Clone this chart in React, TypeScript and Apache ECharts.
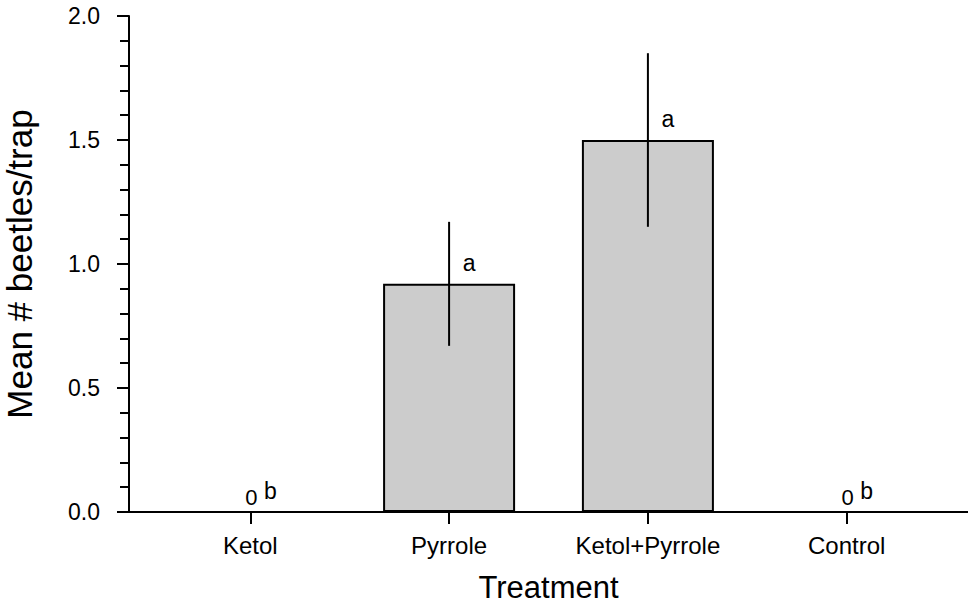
import React, { useEffect, useRef } from "react";
import * as echarts from "echarts";

const categories = ["Ketol", "Pyrrole", "Ketol+Pyrrole", "Control"];
const positions = [1, 2, 3, 4];
const means = [0, 0.92, 1.5, 0];
const errors = [0, 0.25, 0.35, 0];
const letters = ["b", "a", "a", "b"];
const yTicks = [0, 0.5, 1.0, 1.5, 2.0];

const FONT = "'Liberation Sans', Arial, Helvetica, sans-serif";

export default function App() {
  const ref = useRef<HTMLDivElement>(null);
  useEffect(() => {
    document.body.style.margin = "0";
    if (!ref.current) return;
    const chart = echarts.init(ref.current, undefined, { renderer: "svg" });
    const barData = positions.map((p, i) => [p, means[i]]);
    const errData = positions.map((p, i) => [p, means[i], errors[i]]);
    chart.setOption({
      animation: false,
      backgroundColor: "#ffffff",
      grid: {
        left: 129,
        right: 0,
        top: 16,
        bottom: 94,
        containLabel: false,
        outerBoundsMode: "none",
      },
      xAxis: {
        type: "value",
        min: 0.39,
        max: 4.61,
        name: "Treatment",
        nameLocation: "middle",
        nameGap: 60,
        nameTextStyle: { fontSize: 31, color: "#000", fontFamily: FONT },
        axisLine: { show: true, lineStyle: { color: "#000", width: 2 } },
        axisTick: {
          show: true,
          customValues: positions,
          length: 12,
          lineStyle: { color: "#000", width: 2 },
        },
        axisLabel: {
          customValues: positions,
          formatter: (v: number) => categories[Math.round(v) - 1] ?? "",
          fontSize: 24,
          color: "#000",
          fontFamily: FONT,
          margin: 21,
        },
        splitLine: { show: false },
      },
      yAxis: {
        type: "value",
        min: yTicks[0],
        max: yTicks[yTicks.length - 1],
        interval: 0.5,
        name: "Mean # beetles/trap",
        nameLocation: "middle",
        nameGap: 92,
        nameTextStyle: { fontSize: 35, color: "#000", fontFamily: FONT },
        axisLine: { show: true, lineStyle: { color: "#000", width: 2 } },
        axisTick: { show: true, length: 12, lineStyle: { color: "#000", width: 2 } },
        minorTick: { show: true, splitNumber: 5, length: 9, lineStyle: { color: "#000", width: 2 } },
        axisLabel: {
          formatter: (v: number) => v.toFixed(1),
          fontSize: 23,
          color: "#000",
          fontFamily: FONT,
          margin: 29,
        },
        splitLine: { show: false },
        minorSplitLine: { show: false },
      },
      series: [
        {
          type: "bar",
          data: barData,
          barWidth: 132,
          itemStyle: { color: "#cccccc", borderColor: "#000", borderWidth: 2 },
          z: 2,
        },
        {
          type: "custom",
          data: errData,
          z: 5,
          renderItem: (params: any, api: any) => {
            const x = api.value(0);
            const m = api.value(1);
            const e = api.value(2);
            const idx = params.dataIndex;
            const c = api.coord([x, m]);
            const children: any[] = [];
            if (e > 0) {
              const t = api.coord([x, m + e]);
              const b = api.coord([x, m - e]);
              children.push({
                type: "line",
                shape: { x1: t[0], y1: t[1], x2: b[0], y2: b[1] },
                style: { stroke: "#000", lineWidth: 2 },
              });
            }
            children.push({
              type: "text",
              x: c[0] + 20,
              y: c[1] - 21,
              style: {
                text: letters[idx],
                align: "center",
                verticalAlign: "middle",
                fontSize: 23,
                fontFamily: FONT,
                fill: "#000",
              },
            });
            if (m === 0) {
              children.push({
                type: "text",
                x: c[0] + 1,
                y: c[1] - 15,
                style: {
                  text: String(m),
                  align: "center",
                  verticalAlign: "middle",
                  fontSize: 22,
                  fontFamily: FONT,
                  fill: "#000",
                },
              });
            }
            return { type: "group", children };
          },
        },
      ],
    });
    return () => chart.dispose();
  }, []);
  return <div ref={ref} style={{ width: 968, height: 606 }} />;
}
